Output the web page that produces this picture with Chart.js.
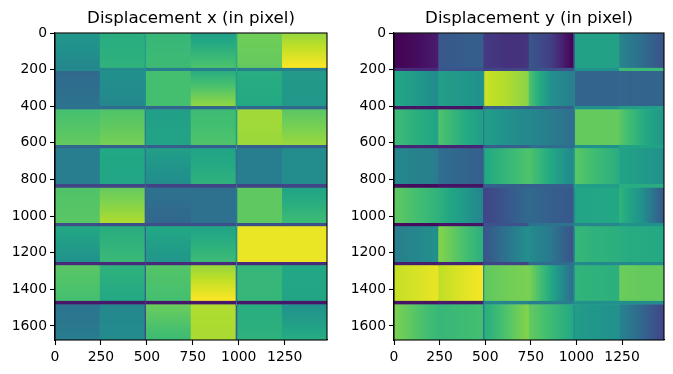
<!DOCTYPE html>
<html lang="en">
<head>
  <meta charset="UTF-8" />
  <title>Displacement maps</title>
  <script src="https://cdn.jsdelivr.net/npm/chart.js"></script>
  <style>
    body { margin: 0; background: #fff; width: 673px; height: 374px; overflow: hidden; position: relative; }
    canvas { position: absolute; top: 0; }
    #dxChart { left: 0; }
    #dyChart { left: 339px; }
  </style>
</head>
<body>
  <canvas id="dxChart" width="339" height="374"></canvas>
  <canvas id="dyChart" width="334" height="374"></canvas>

  <script>
    // image extent and tile layout, in image pixels
    const imageWidth = 1480;
    const imageHeight = 1677;
    const xTickValues = [0, 250, 500, 750, 1000, 1250];
    const yTickValues = [0, 200, 400, 600, 800, 1000, 1200, 1400, 1600];
    const colCenters = [122, 366, 617, 861, 1114, 1358];
    const colHalf = 122;
    const colGaps = [491.5, 987.5];
    const rowTops = [0, 208, 418, 630, 845, 1056, 1269, 1483];
    const rowBottoms = [190, 399, 612, 825, 1038, 1251, 1463, 1677];

    // colormap positions (0..1), rows of tiles by column
    const dxTop = [
      [.53, .62, .66, .56, .78, .84],
      [.34, .50, .70, .62, .62, .54],
      [.70, .72, .56, .68, .86, .74],
      [.42, .60, .56, .58, .42, .48],
      [.72, .76, .38, .37, .75, .58],
      [.60, .62, .60, .58, .97, .97],
      [.74, .64, .73, .84, .66, .60],
      [.38, .46, .77, .88, .62, .50]
    ];
    const dxBottom = [
      [.46, .64, .68, .72, .76, 1.0],
      [.38, .46, .70, .84, .60, .53],
      [.76, .79, .58, .72, .85, .85],
      [.42, .59, .48, .64, .42, .48],
      [.74, .88, .33, .37, .75, .68],
      [.50, .67, .52, .68, .97, .97],
      [.70, .60, .70, 1.0, .66, .58],
      [.42, .48, .68, .87, .64, .62]
    ];
    const dxRowGaps = [
      [.47, .47, .42, .42, .42, .42],
      [.37, .36, .33, .33, .33, .34],
      [.33, .30, .30, .30, .30, .30],
      [.20, .20, .20, .20, .20, .20],
      [.24, .24, .24, .24, .24, .24],
      [.12, .12, .12, .12, .12, .12],
      [.06, .06, .06, .06, .06, .06]
    ];
    const dxColGaps = [
      [.55, .50, .42, .38, .30, .30, .30, .20],
      [.62, .55, .55, .37, .40, .50, .40, .30]
    ];

    const dyLeft = [
      [.00, .27, .17, .27, .57, .45],
      [.60, .56, .92, .72, .32, .33],
      [.68, .72, .56, .47, .76, .74],
      [.46, .36, .60, .72, .74, .58],
      [.75, .64, .20, .34, .58, .65],
      [.42, .82, .26, .48, .66, .62],
      [.91, .90, .75, .80, .65, .77],
      [.80, .66, .62, .76, .55, .45]
    ];
    const dyMid = [
      [.03, .29, .14, .18, .57, .36],
      [.54, .53, .88, .50, .32, .32],
      [.63, .63, .50, .42, .76, .62],
      [.44, .33, .66, .60, .68, .54],
      [.70, .55, .27, .30, .59, .50],
      [.46, .72, .38, .40, .64, .61],
      [.94, .95, .78, .60, .64, .76],
      [.73, .68, .72, .68, .52, .33]
    ];
    const dyRight = [
      [.08, .30, .15, .00, .57, .25],
      [.47, .50, .82, .42, .32, .32],
      [.58, .55, .46, .36, .76, .52],
      [.42, .30, .72, .46, .62, .50],
      [.64, .45, .34, .27, .60, .27],
      [.50, .63, .50, .25, .63, .60],
      [.97, .99, .80, .35, .63, .76],
      [.66, .70, .82, .60, .50, .20]
    ];
    const dyRowGaps = [
      [.12, .25, .20, .25, .50, .68],
      [.05, .05, .30, .30, .50, .55],
      [.10, .10, .30, .35, .50, .58],
      [.03, .05, .30, .30, .55, .62],
      [.03, .05, .25, .38, .45, .50],
      [.08, .10, .20, .35, .47, .47],
      [.05, .07, .45, .42, .50, .48]
    ];
    const dyColGaps = [
      [.20, .55, .40, .38, .22, .28, .45, .38],
      [.30, .45, .38, .55, .45, .45, .50, .50]
    ];

    const viridisStops = [
      [68, 1, 84], [72, 36, 117], [65, 68, 135], [53, 95, 141], [42, 120, 142], [33, 145, 140],
      [34, 168, 132], [68, 191, 112], [122, 209, 81], [189, 223, 38], [253, 231, 37]
    ];

    function viridis(v) {
      const p = Math.min(Math.max(v, 0), 1) * 10;
      const i = Math.min(Math.floor(p), 9);
      const t = p - i;
      const c = viridisStops[i].map((a, k) => Math.round(a + (viridisStops[i + 1][k] - a) * t));
      return `rgb(${c[0]},${c[1]},${c[2]})`;
    }

    // gradient paint for one tile, vertical or horizontal
    function tileFill(ctx, vertical) {
      if (!ctx.raw) return 'transparent';
      const { x: xs, y: ys } = ctx.chart.scales;
      const a = vertical ? ys.getPixelForValue(ctx.raw.y[0]) : xs.getPixelForValue(ctx.raw.x - colHalf);
      const b = vertical ? ys.getPixelForValue(ctx.raw.y[1]) : xs.getPixelForValue(ctx.raw.x + colHalf);
      // options get resolved once before the scales have a size
      if (!isFinite(a) || !isFinite(b)) return viridis(ctx.raw.v[0]);
      const g = vertical
        ? ctx.chart.ctx.createLinearGradient(0, a, 0, b)
        : ctx.chart.ctx.createLinearGradient(a, 0, b, 0);
      const vals = ctx.raw.v;
      const steps = 8;
      for (let s = 0; s <= steps; s++) {
        const p = s / steps * (vals.length - 1);
        const i = Math.min(Math.floor(p), vals.length - 2);
        g.addColorStop(s / steps, viridis(vals[i] + (vals[i + 1] - vals[i]) * (p - i)));
      }
      return g;
    }

    const frame = {
      id: 'frame',
      afterDraw(chart) {
        const { left, top, width, height } = chart.chartArea;
        chart.ctx.save();
        chart.ctx.strokeStyle = '#000';
        chart.ctx.lineWidth = 1.1;
        chart.ctx.strokeRect(left, top, width, height);
        chart.ctx.restore();
      }
    };

    function drawPanel(canvasId, title, tileValues, vertical, rowGaps, colGapVals, leftSpace, rightSpace) {
      const tiles = [];
      rowTops.forEach((top, r) => colCenters.forEach((x, c) => {
        tiles.push({ x, y: [top, rowBottoms[r]], v: tileValues.map(t => t[r][c]) });
      }));
      const hStripes = [];
      rowGaps.forEach((row, r) => row.forEach((v, c) => {
        hStripes.push({ x: colCenters[c], y: [rowBottoms[r], rowTops[r + 1]], v });
      }));
      const vStripes = [];
      colGapVals.forEach((col, g) => col.forEach((v, r) => {
        vStripes.push({ x: colGaps[g], y: [rowTops[r], r < 7 ? rowTops[r + 1] : imageHeight], v });
      }));

      const common = { grouped: false, categoryPercentage: 1, barPercentage: 1, borderWidth: 0 };
      const flat = c => c.raw ? viridis(c.raw.v) : 'transparent';
      const fill = c => tileFill(c, vertical);
      new Chart(document.getElementById(canvasId), {
        type: 'bar',
        plugins: [frame],
        data: {
          // first dataset is painted last: crisp tiles on top, the inflated copy at the bottom hides seams
          datasets: [
            { ...common, data: tiles, backgroundColor: fill, inflateAmount: 0 },
            { ...common, data: hStripes, backgroundColor: flat, inflateAmount: 0.33 },
            { ...common, data: vStripes, xAxisID: 'x2', barThickness: 3, backgroundColor: flat, inflateAmount: 0 },
            { ...common, data: tiles, backgroundColor: fill, inflateAmount: 0.33 }
          ]
        },
        options: {
          responsive: false,
          animation: false,
          layout: { padding: { left: 0, right: rightSpace, top: 0, bottom: 0 } },
          plugins: {
            legend: { display: false },
            tooltip: { enabled: false },
            title: {
              display: true,
              fullSize: false,
              text: title,
              color: '#000',
              font: { family: 'DejaVu Sans', size: 16.67, weight: 'normal' },
              padding: { top: 9, bottom: 4 }
            }
          },
          scales: {
            x: {
              type: 'linear',
              offset: false,
              min: 0,
              max: imageWidth,
              afterFit: s => { s.height = 34; },
              afterBuildTicks: s => { s.ticks = xTickValues.map(value => ({ value })); },
              grid: { offset: false, drawOnChartArea: false, tickLength: 5, tickColor: '#000', tickWidth: 1.1 },
              border: { color: '#000', width: 1.1 },
              ticks: { callback: v => String(v), autoSkip: false, maxRotation: 0, color: '#000', padding: 4, font: { family: 'DejaVu Sans', size: 13.9 } }
            },
            x2: { type: 'linear', display: false, offset: false, min: 0, max: imageWidth },
            y: {
              reverse: true,
              min: 0,
              max: imageHeight,
              afterFit: s => { s.width = leftSpace; },
              afterBuildTicks: s => { s.ticks = yTickValues.map(value => ({ value })); },
              grid: { drawOnChartArea: false, tickLength: 5, tickColor: '#000', tickWidth: 1.1 },
              border: { color: '#000', width: 1.1 },
              ticks: { callback: v => String(v), autoSkip: false, color: '#000', padding: 3, font: { family: 'DejaVu Sans', size: 13.9 } }
            }
          }
        }
      });
    }

    drawPanel('dxChart', 'Displacement x (in pixel)', [dxTop, dxBottom], true, dxRowGaps, dxColGaps, 55, 12);
    drawPanel('dyChart', 'Displacement y (in pixel)', [dyLeft, dyMid, dyRight], false, dyRowGaps, dyColGaps, 55, 9);
  </script>
</body>
</html>
